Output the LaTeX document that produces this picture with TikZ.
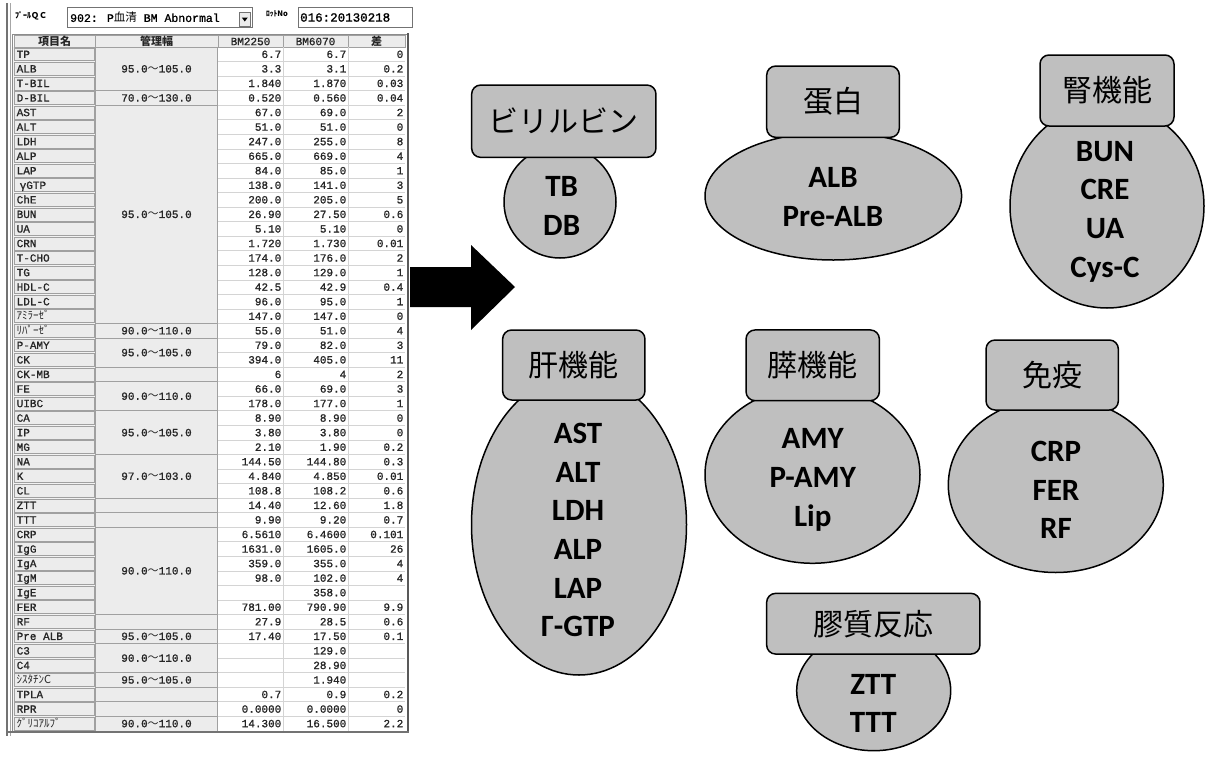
\documentclass[tikz,border=0pt]{standalone}
\usepackage{fontspec}
\usetikzlibrary{shapes.geometric}
\newfontfamily\jpfont{Noto Sans CJK JP}
\newfontfamily\tblfont{Liberation Mono}[FakeBold=1.2]
\newfontfamily\calfont{Carlito}
\definecolor{shapegray}{RGB}{191,191,191}
\definecolor{cellgray}{RGB}{236,236,236}
\definecolor{cellline}{RGB}{160,160,160}
\definecolor{gridgray}{RGB}{212,212,212}
\def\rA{95.0{\jpfont ～}105.0}
\def\rB{70.0{\jpfont ～}130.0}
\def\rC{90.0{\jpfont ～}110.0}
\def\rD{97.0{\jpfont ～}103.0}
\def\rN{}
\begin{document}
\begin{tikzpicture}[x=1pt,y=-1pt,
  tbltext/.style={inner sep=0pt, text height=7.3pt, text depth=0pt, text=black!85, font=\tblfont\fontsize{11}{11}\selectfont},
  namecell/.style={fill=cellgray, draw=cellline, line width=0.6pt},
  rangecell/.style={fill=cellgray, draw=cellline, line width=0.6pt},
  hdrcell/.style={fill=cellgray, draw=cellline, line width=0.6pt},
  gridline/.style={draw=gridgray, line width=0.6pt},
  grp/.style={rectangle, draw=black, line width=1.5pt, fill=shapegray, rounded corners=9pt, inner sep=0pt, font=\jpfont\fontsize{30}{30}\selectfont},
  blob/.style={ellipse, draw=black, line width=1.5pt, fill=shapegray, inner sep=0pt},
  items/.style={align=center, inner sep=0pt, font=\calfont\bfseries\fontsize{31}{38.7}\selectfont}
]
\useasboundingbox (0,0) rectangle (1208,758);
\fill[white] (0,0) rectangle (1208,758);

% ---------------- window / top bar ----------------
\draw[line width=2pt, black!55] (7,3) -- (7,736);
\draw[line width=0.8pt, black!35] (10,3) -- (10,736);
\node[inner sep=0pt, anchor=west, font=\jpfont\bfseries\fontsize{8}{8}\selectfont] (qclabel) at (15,16) {ﾌﾟｰﾙＱＣ};
\draw[fill=white, draw=black!55, line width=0.7pt] (67,7) rectangle (252,27);
\node[inner sep=0pt, anchor=west, font=\tblfont\fontsize{11.5}{11.5}\selectfont] (qcbox) at (70,17.5) {902: P{\jpfont 血清} BM Abnormal};
\draw[fill=cellgray, draw=black!55, line width=0.6pt] (239,12) rectangle (250.5,26);
\fill[black] (241.8,17.5) -- (247.8,17.5) -- (244.8,21.5) -- cycle;
\node[inner sep=0pt, anchor=west, font=\jpfont\bfseries\fontsize{7.5}{7.5}\selectfont] (lotlabel) at (266,14) {ﾛｯﾄNo};
\draw[fill=white, draw=black!55, line width=0.7pt] (298,7) rectangle (412,27);
\node[inner sep=0pt, anchor=west, font=\tblfont\fontsize{12.5}{12.5}\selectfont] (lotbox) at (300,17.5) {016:20130218};

% ---------------- table ----------------
\def\rh{14.55}
\def\ty{47}
\fill[white] (12.5,34) rectangle (407,732);
\fill[cellgray!70] (12.5,47) rectangle (95,731);
% header
\foreach \xa/\xb/\t [count=\k] in {14/95/{\jpfont\bfseries 項目名}, 95/218/{\jpfont\bfseries 管理幅}, 218/283/BM2250, 283/348/BM6070, 348/405/{\jpfont\bfseries 差}} {
  \draw[hdrcell] (\xa,35) rectangle (\xb,47);
  \node[tbltext] (h\k) at ({(\xa+\xb)/2},41.5) {\t};
}
% rows
\foreach \n/\a/\b/\c [count=\i] in {
  TP/6.7/6.7/0, ALB/3.3/3.1/0.2, T-BIL/1.840/1.870/0.03, D-BIL/0.520/0.560/0.04,
  AST/67.0/69.0/2, ALT/51.0/51.0/0, LDH/247.0/255.0/8, ALP/665.0/669.0/4,
  LAP/84.0/85.0/1, {\hspace{3pt}γGTP}/138.0/141.0/3, ChE/200.0/205.0/5, BUN/26.90/27.50/0.6,
  UA/5.10/5.10/0, CRN/1.720/1.730/0.01, T-CHO/174.0/176.0/2, TG/128.0/129.0/1,
  HDL-C/42.5/42.9/0.4, LDL-C/96.0/95.0/1, {\jpfont ｱﾐﾗｰｾﾞ}/147.0/147.0/0, {\jpfont ﾘﾊﾟｰｾﾞ}/55.0/51.0/4,
  P-AMY/79.0/82.0/3, CK/394.0/405.0/11, CK-MB/6/4/2, FE/66.0/69.0/3,
  UIBC/178.0/177.0/1, CA/8.90/8.90/0, IP/3.80/3.80/0, MG/2.10/1.90/0.2,
  NA/144.50/144.80/0.3, K/4.840/4.850/0.01, CL/108.8/108.2/0.6, ZTT/14.40/12.60/1.8,
  TTT/9.90/9.20/0.7, CRP/6.5610/6.4600/0.101, IgG/1631.0/1605.0/26, IgA/359.0/355.0/4,
  IgM/98.0/102.0/4, IgE/\rN/358.0/\rN, FER/781.00/790.90/9.9, RF/27.9/28.5/0.6,
  Pre ALB/17.40/17.50/0.1, C3/\rN/129.0/\rN, C4/\rN/28.90/\rN, {\jpfont ｼｽﾀﾁﾝC}/\rN/1.940/\rN,
  TPLA/0.7/0.9/0.2, RPR/0.0000/0.0000/0, {\jpfont ｸﾞﾘｺｱﾙﾌﾞ}/14.300/16.500/2.2} {
  \pgfmathsetmacro\ya{\ty+(\i-1)*\rh}
  \pgfmathsetmacro\yb{\ya+\rh}
  \pgfmathsetmacro\ym{\ya+\rh/2}
  \draw[namecell] (14.5,\ya+0.8) rectangle (94,\yb-0.8);
  \draw[gridline] (218,\yb) -- (405,\yb);
  \node[tbltext, anchor=west] (n\i) at (16.5,\ym) {\n};
  \node[tbltext, anchor=east] (a\i) at (281.5,\ym) {\a};
  \node[tbltext, anchor=east] (b\i) at (346.5,\ym) {\b};
  \node[tbltext, anchor=east] (c\i) at (403.5,\ym) {\c};
}
\draw[gridline] (283,47) -- (283,731);
\draw[gridline] (348,47) -- (348,731);
% merged range cells
\foreach \s/\e/\t [count=\k] in {1/3/\rA, 4/4/\rB, 5/19/\rA, 20/20/\rC, 21/22/\rA, 23/23/\rN,
  24/25/\rC, 26/28/\rA, 29/31/\rD, 32/32/\rN, 33/33/\rN, 34/39/\rC, 40/40/\rN, 41/41/\rA,
  42/43/\rC, 44/44/\rA, 45/45/\rN, 46/46/\rN, 47/47/\rC} {
  \pgfmathsetmacro\ya{\ty+(\s-1)*\rh}
  \pgfmathsetmacro\yb{\ty+\e*\rh}
  \draw[rangecell] (95.5,\ya) rectangle (217.5,\yb);
  \node[tbltext] (r\k) at (156.5,{(\ya+\yb)/2}) {\t};
}
\draw[line width=0.7pt, black!45] (12.5,34) rectangle (407,731);
\draw[line width=2pt, black!65] (407.5,33) -- (407.5,732);
\draw[line width=2pt, black!55] (7,732) -- (409,732);

% ---------------- arrow ----------------
\fill[black] (410,267) -- (471,267) -- (471,245) -- (515,287) -- (471,330) -- (471,307) -- (410,307) -- cycle;

% ---------------- groups ----------------
% ellipses first (rectangles overlap them)
\node[blob, minimum width=112pt, minimum height=112pt] (eBil) at (560,202) {};
\node[blob, minimum width=256.6pt, minimum height=128pt] (eTan) at (833.3,196) {};
\node[blob, minimum width=194pt, minimum height=204pt] (eJin) at (1107,206) {};
\node[blob, minimum width=215pt, minimum height=300.6pt] (eKan) at (579,524.7) {};
\node[blob, minimum width=215pt, minimum height=177pt] (eSui) at (812.5,474.8) {};
\node[blob, minimum width=215pt, minimum height=175pt] (eMen) at (1055.8,485) {};
\node[blob, minimum width=154pt, minimum height=120pt] (eKou) at (873.7,690.7) {};

\node[grp, minimum width=184.3pt, minimum height=72.3pt] (gBil) at (563.8,121.2) {ビリルビン};
\node[grp, minimum width=132.6pt, minimum height=71.3pt] (gTan) at (833,101.7) {蛋白};
\node[grp, minimum width=134pt, minimum height=71pt] (gJin) at (1107,90.5) {腎機能};
\node[grp, minimum width=142.3pt, minimum height=70pt] (gKan) at (573.8,365) {肝機能};
\node[grp, minimum width=133.3pt, minimum height=70.7pt] (gSui) at (812.7,365.3) {膵機能};
\node[grp, minimum width=132.3pt, minimum height=70pt] (gMen) at (1052.2,375) {免疫};
\node[grp, minimum width=213.3pt, minimum height=60.7pt] (gKou) at (873.3,623.7) {膠質反応};

\node[items] (tBil) at (561.7,205.8) {TB\\DB};
\node[items] (tTan) at (833,197.3) {ALB\\Pre-ALB};
\node[items] (tJin) at (1105,211.7) {BUN\\CRE\\UA\\Cys-C};
\node[items] (tKan) at (578,530) {AST\\ALT\\LDH\\ALP\\LAP\\Γ-GTP};
\node[items] (tSui) at (812.7,480) {AMY\\P-AMY\\Lip};
\node[items] (tMen) at (1056,490) {CRP\\FER\\RF};
\node[items] (tKou) at (873.3,703.3) {ZTT\\TTT};
\end{tikzpicture}
\end{document}
